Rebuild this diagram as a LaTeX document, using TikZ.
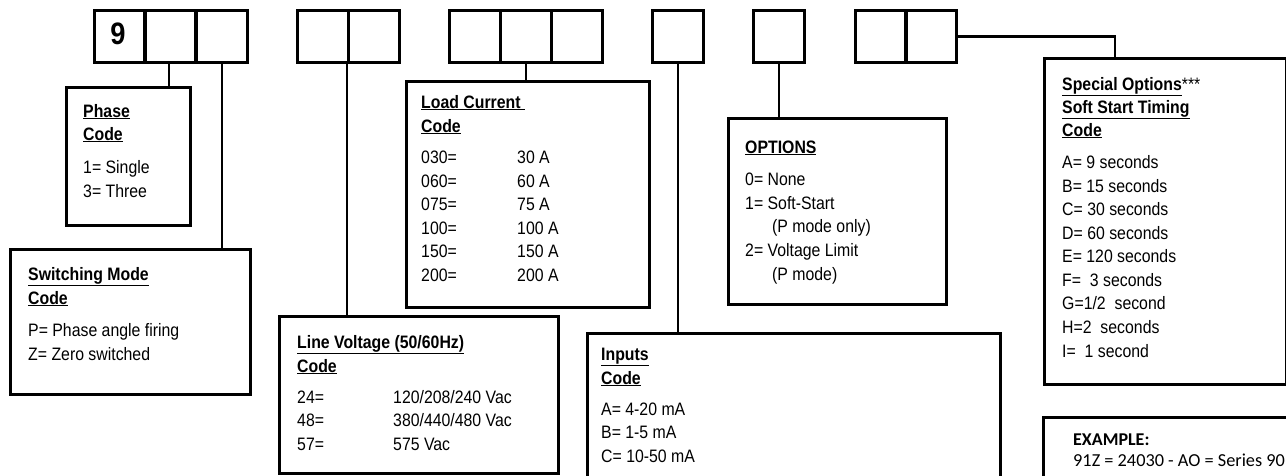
\documentclass[tikz,border=0pt]{standalone}
\usepackage{fontspec}
\setmainfont{Liberation Sans}[FakeStretch=0.88]
\newfontfamily\exfont{Carlito}
\begin{document}
\begin{tikzpicture}[x=1pt,y=-1pt,
  cell/.style={draw,line width=2.8pt,inner sep=0pt,minimum width=51pt,minimum height=52pt,anchor=north west},
  box/.style={draw,line width=2.8pt,inner sep=0pt,anchor=north west},
  conn/.style={line width=2.8pt},
  txt/.style={anchor=base west,inner sep=0pt,font=\fontsize{18}{20}\selectfont},
  hdr/.style={txt,font=\fontsize{18}{20}\selectfont\bfseries}]
\useasboundingbox (0,0) rectangle (1286,475);
\clip (0,0) rectangle (1286,475);
% code cells
\node[cell] (c1a) at (93,9) {};
\node[cell] (c1b) at (143,9) {};
\node[cell] (c1c) at (195,9) {};
\node[anchor=base,inner sep=0pt,font=\fontsize{31}{31}\selectfont\bfseries] (nine) at (118,44) {9};
\node[cell] (c2a) at (296,9) {};
\node[cell] (c2b) at (347,9) {};
\node[cell] (c3a) at (448,9) {};
\node[cell] (c3b) at (499,9) {};
\node[cell] (c3c) at (550,9) {};
\node[cell] (c4) at (651,9) {};
\node[cell] (c5) at (752,9) {};
\node[cell] (c6a) at (854,9) {};
\node[cell] (c6b) at (904,9) {};
% boxes
\node[box,minimum width=124pt,minimum height=138pt] (phase) at (65,86) {};
\node[box,minimum width=240pt,minimum height=145pt] (sw) at (9,248) {};
\node[box,minimum width=243pt,minimum height=226pt] (load) at (405,80) {};
\node[box,minimum width=279pt,minimum height=157pt] (lv) at (278,315) {};
\node[box,minimum width=218pt,minimum height=186pt] (opt) at (727,117) {};
\node[box,minimum width=413pt,minimum height=200pt] (inp) at (586,332) {};
\node[box,minimum width=242pt,minimum height=326pt] (spec) at (1043,57) {};
\node[box,minimum width=260pt,minimum height=100pt] (ex) at (1042,416) {};
% connectors
\coordinate (j1) at (169,61);
\coordinate (j2) at (347,61);
\coordinate (j3) at (526,61);
\coordinate (sj) at (1115,57);
\draw[conn] (j1) -- (j1 |- phase.north);
\draw[conn] (c1c.south) -- (c1c.south |- sw.north);
\draw[conn] (j2) -- (j2 |- lv.north);
\draw[conn] (j3) -- (j3 |- load.north);
\draw[conn] (c4.south) -- (c4.south |- inp.north);
\draw[conn] (c5.south) -- (c5.south |- opt.north);
\draw[conn] (c6b.east) -| (sj);
% Phase
\node[hdr] (t1) at (83,117) {\underline{Phase}};
\node[hdr] (t2) at (83,140) {\underline{Code}};
\node[txt] (t3) at (83,173) {1= Single};
\node[txt] (t4) at (83,197) {3= Three};
% Switching
\node[hdr] (s1) at (28,280) {\underline{Switching Mode}};
\node[hdr] (s2) at (28,304) {\underline{Code}};
\node[txt] (s3) at (28,336) {P= Phase angle firing};
\node[txt] (s4) at (28,360) {Z= Zero switched};
% Load current
\node[hdr] (l1) at (421,108) {\underline{Load Current\ }};
\node[hdr] (l2) at (421,132) {\underline{Code}};
\node[txt] (l3) at (421,163) {030=};
\node[txt] (l4) at (421,187) {060=};
\node[txt] (l5) at (421,210) {075=};
\node[txt] (l6) at (421,234) {100=};
\node[txt] (l7) at (421,257) {150=};
\node[txt] (l8) at (421,281) {200=};
\node[txt] (m3) at (517,163) {30 A};
\node[txt] (m4) at (517,187) {60 A};
\node[txt] (m5) at (517,210) {75 A};
\node[txt] (m6) at (517,234) {100 A};
\node[txt] (m7) at (517,257) {150 A};
\node[txt] (m8) at (517,281) {200 A};
% Line voltage
\node[hdr] (v1) at (297,348) {\underline{Line Voltage (50/60Hz)}};
\node[hdr] (v2) at (297,372) {\underline{Code}};
\node[txt] (v3) at (297,403) {24=};
\node[txt] (v4) at (297,426) {48=};
\node[txt] (v5) at (297,450) {57=};
\node[txt] (w3) at (393,403) {120/208/240 Vac};
\node[txt] (w4) at (393,426) {380/440/480 Vac};
\node[txt] (w5) at (393,450) {575 Vac};
% Options
\node[hdr] (o1) at (745,153) {\underline{OPTIONS}};
\node[txt] (o2) at (745,185) {0= None};
\node[txt] (o3) at (745,209) {1= Soft-Start};
\node[txt] (o4) at (772,232) {(P mode only)};
\node[txt] (o5) at (745,256) {2= Voltage Limit};
\node[txt] (o6) at (772,280) {(P mode)};
% Inputs
\node[hdr] (i1) at (601,360) {\underline{Inputs}};
\node[hdr] (i2) at (601,384) {\underline{Code}};
\node[txt] (i3) at (601,415) {A= 4-20 mA};
\node[txt] (i4) at (601,438) {B= 1-5 mA};
\node[txt] (i5) at (601,462) {C= 10-50 mA};
% Special
\node[hdr] (p1) at (1062,90) {\underline{Special Options}\mdseries***};
\node[hdr] (p2) at (1062,113) {\underline{Soft Start Timing}};
\node[hdr] (p3) at (1062,136) {\underline{Code}};
\node[txt] (q1) at (1062,168) {A= 9 seconds};
\node[txt] (q2) at (1062,192) {B= 15 seconds};
\node[txt] (q3) at (1062,215) {C= 30 seconds};
\node[txt] (q4) at (1062,239) {D= 60 seconds};
\node[txt] (q5) at (1062,262) {E= 120 seconds};
\node[txt] (q6) at (1062,286) {F=\ \ 3 seconds};
\node[txt] (q7) at (1062,309) {G=1/2\ \ second};
\node[txt] (q8) at (1062,333) {H=2\ \ seconds};
\node[txt] (q9) at (1062,357) {I=\ \ 1 second};
% Example
\node[anchor=base west,inner sep=0pt,font=\exfont\fontsize{18}{20}\selectfont\bfseries] (e1) at (1073,445) {EXAMPLE:};
\node[anchor=base west,inner sep=0pt,font=\exfont\fontsize{18.3}{20}\selectfont] (e2) at (1073,466) {91Z = 24030 - AO = Series 90};
\end{tikzpicture}
\end{document}
